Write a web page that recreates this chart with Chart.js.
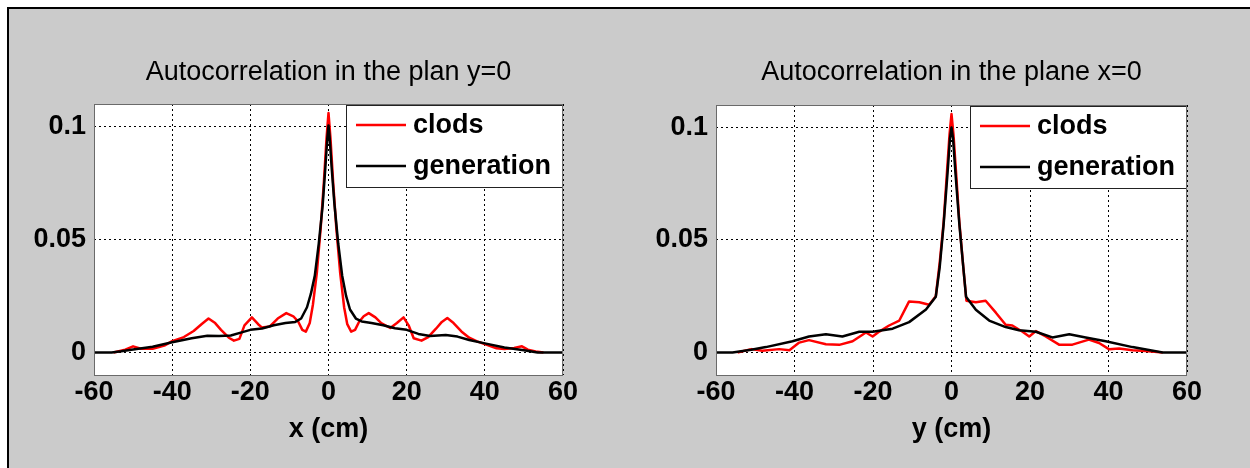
<!DOCTYPE html>
<html>
<head>
<meta charset="utf-8">
<script src="https://cdn.jsdelivr.net/npm/chart.js@4.4.1/dist/chart.umd.min.js"></script>
<style>
  body { margin: 0; background: #fff; width: 1250px; height: 468px; overflow: hidden; position: relative; }
  #frame { position: absolute; left: 7px; top: 7px; width: 1243px; height: 461px; background: #cbcbcb;
           border-left: 2px solid #000; border-top: 2px solid #000; box-sizing: border-box; }
  canvas { position: absolute; }
</style>
</head>
<body>
<div id="frame"></div>
<canvas id="plotY0" width="600" height="460" style="left:8px; top:8px;"></canvas>
<canvas id="plotX0" width="600" height="460" style="left:630px; top:8px;"></canvas>
<script>
const xTicks = [-60, -40, -20, 0, 20, 40, 60];
const yTicks = [0, 0.05, 0.1];
const seriesNames = ["clods", "generation"];

// plan y=0
const y0ClodsX = [-55, -52, -50, -48, -45, -42, -40, -37, -34.5, -32.5, -30.7, -29, -27.5, -25.5, -24.2, -22.8,
  -21.5, -19.6, -18, -17, -15, -13, -10.8, -9, -7.7, -6.7, -5.8, -4.8, -4, -3, -2, -1.2, -0.5, 0,
  0.5, 1.2, 2, 3, 4, 4.8, 5.8, 6.8, 7.8, 9, 10.3, 12, 13.5, 15.8, 17.5, 19.2, 20.5, 21.8, 23.8, 25.5,
  27.5, 29, 30.4, 32, 34, 36, 38, 40.5, 43, 45, 47.5, 49.5, 51, 53, 55];
const y0ClodsY = [0, 0.0012, 0.0027, 0.0016, 0.0016, 0.003, 0.005, 0.0068, 0.0095, 0.0125, 0.015, 0.013, 0.01, 0.0065, 0.0052, 0.006,
  0.012, 0.0155, 0.0125, 0.011, 0.0115, 0.015, 0.0174, 0.016, 0.0135, 0.01, 0.0092, 0.013, 0.021, 0.035, 0.055, 0.075, 0.095, 0.106,
  0.095, 0.075, 0.055, 0.035, 0.02, 0.0125, 0.0092, 0.01, 0.0135, 0.016, 0.0174, 0.0155, 0.013, 0.0108, 0.013, 0.0155, 0.012, 0.0063, 0.0052, 0.0068,
  0.0105, 0.0135, 0.0152, 0.013, 0.0093, 0.0065, 0.0049, 0.0034, 0.0018, 0.0015, 0.002, 0.0027, 0.0012, 0.0004, 0];
const y0GenX = [-60, -55.5, -53, -50, -45, -40, -35, -31, -28, -25, -22, -20, -17, -14, -11, -8.5, -7, -5.5, -4.5, -3.5,
  -2.5, -1.5, -0.8, -0.3, 0, 0.3, 0.8, 1.5, 2.5, 3.5, 4.5, 5.5, 7, 8.5, 11, 14, 17, 20, 23, 26, 30, 33, 36, 40, 45, 50, 53.5, 60];
const y0GenY = [0, 0, 0.0005, 0.0013, 0.0025, 0.0045, 0.0063, 0.0074, 0.0073, 0.0075, 0.009, 0.01, 0.0106, 0.012, 0.013, 0.0135, 0.015, 0.02, 0.026, 0.034,
  0.048, 0.065, 0.082, 0.095, 0.1005, 0.095, 0.082, 0.066, 0.048, 0.034, 0.025, 0.019, 0.015, 0.0137, 0.013, 0.012, 0.0107, 0.01, 0.0082, 0.0073, 0.0077, 0.007, 0.0055, 0.004, 0.0022, 0.001, 0, 0];

// plane x=0
const x0ClodsX = [-54.5, -51, -48.2, -43.9, -41.3, -38.8, -36.3, -32, -28.6, -25.2, -21.8, -20.1, -18.4, -15.9, -13.3, -10.8,
  -8.2, -5.7, -4, -3, -2, -1.2, -0.5, 0, 0.5, 1.2, 2, 3, 3.8, 6.2, 8.7, 11.3, 13.8, 15.5, 18.1, 19.8, 21.5, 24, 27.4,
  30.8, 35, 37.6, 40.2, 42.7, 46.1, 49.5, 53.8];
const x0ClodsY = [0, 0.0015, 0.0008, 0.0015, 0.001, 0.0044, 0.0055, 0.0037, 0.0034, 0.005, 0.0089, 0.0071, 0.0093, 0.012, 0.0142, 0.0227,
  0.0223, 0.0212, 0.025, 0.04, 0.058, 0.079, 0.097, 0.106, 0.097, 0.079, 0.058, 0.038, 0.023, 0.0223, 0.023, 0.0177, 0.0123, 0.012, 0.0092, 0.0071, 0.0095, 0.0071, 0.0035,
  0.0035, 0.0057, 0.0042, 0.0014, 0.0018, 0.001, 0.0007, 0];
const x0GenX = [-60, -55.8, -51, -47.3, -40.5, -36.3, -32, -27.8, -23.5, -20.1, -15, -10.8, -6.5, -4, -3, -2, -1, -0.4, 0,
  0.4, 1, 2, 3, 3.7, 6.2, 9.6, 13.8, 17.2, 21.5, 25.7, 30, 34.2, 39.3, 46.1, 53.8, 60];
const x0GenY = [0, 0, 0.0012, 0.0024, 0.005, 0.0071, 0.0081, 0.0071, 0.0092, 0.0092, 0.0106, 0.0135, 0.0191, 0.0248, 0.038, 0.057, 0.08, 0.095, 0.1,
  0.095, 0.08, 0.057, 0.038, 0.0248, 0.019, 0.0142, 0.0113, 0.0099, 0.0092, 0.0067, 0.0081, 0.0067, 0.005, 0.0024, 0, 0];

const FONT = "'Liberation Sans', Arial, sans-serif";
Chart.defaults.font.family = FONT;
Chart.defaults.color = "#000";

function points(xs, ys) {
  return xs.map((x, i) => ({ x: x, y: ys[i] }));
}

// white plot area, grey box around it, and the legend in the upper right corner
const frameAndLegend = {
  id: "frameAndLegend",
  beforeDraw(chart) {
    const { ctx, chartArea: a } = chart;
    ctx.save();
    ctx.fillStyle = "#fff";
    ctx.fillRect(a.left, a.top, a.width, a.height);
    ctx.restore();
  },
  afterDatasetsDraw(chart) {
    const { ctx, chartArea: a } = chart;
    const w = 217, h = 83;
    const bx = a.right - w, by = a.top + 1;
    ctx.save();
    ctx.fillStyle = "#fff";
    ctx.fillRect(bx, by, w, h);
    ctx.strokeStyle = "#222";
    ctx.lineWidth = 1;
    ctx.strokeRect(bx + 0.5, by + 0.5, w - 1, h - 1);
    ctx.font = "bold 27px " + FONT;
    ctx.textBaseline = "middle";
    chart.data.datasets.forEach((ds, i) => {
      const ly = by + 20 + i * 41;
      ctx.strokeStyle = ds.borderColor;
      ctx.lineWidth = 2.5;
      ctx.beginPath();
      ctx.moveTo(bx + 10, ly);
      ctx.lineTo(bx + 60, ly);
      ctx.stroke();
      ctx.fillStyle = "#000";
      ctx.fillText(ds.label, bx + 67, ly + 1);
    });
    ctx.restore();
  },
  afterDraw(chart) {
    const { ctx, chartArea: a } = chart;
    ctx.save();
    ctx.strokeStyle = "#6a6a6a";
    ctx.lineWidth = 1;
    ctx.strokeRect(Math.round(a.left) + 0.5, Math.round(a.top) + 0.5, Math.round(a.width) - 1, Math.round(a.height));
    ctx.restore();
  }
};

function makePlot(id, title, axisName, clodsX, clodsY, genX, genY, rightPad, topGap) {
  return new Chart(document.getElementById(id), {
    type: "scatter",
    data: {
      datasets: [
        { label: seriesNames[0], data: points(clodsX, clodsY), borderColor: "#ff0000", borderWidth: 2.5, order: 1 },
        { label: seriesNames[1], data: points(genX, genY), borderColor: "#000000", borderWidth: 2.5, order: 0 }
      ]
    },
    options: {
      responsive: false,
      animation: false,
      devicePixelRatio: 1,
      showLine: true,
      elements: { point: { radius: 0 }, line: { tension: 0, fill: false, borderJoinStyle: "round" } },
      layout: { padding: { left: 0, right: rightPad, top: 0, bottom: 0 } },
      plugins: {
        legend: { display: false },
        tooltip: { enabled: false },
        title: {
          display: true,
          text: title,
          fullSize: false,
          color: "#000",
          font: { size: 27, weight: "normal" },
          padding: { top: 48, bottom: topGap }
        }
      },
      scales: {
        x: {
          type: "linear",
          min: -60,
          max: 60,
          afterBuildTicks: s => { s.ticks = xTicks.map(v => ({ value: v })); },
          afterFit: s => { s.height = 93; },
          ticks: { font: { size: 27, weight: "bold" }, padding: 1, maxRotation: 0, callback: v => String(v) },
          grid: { color: "#000", lineWidth: 1, drawTicks: false },
          border: { display: false, dash: [2, 3] },
          title: { display: true, text: axisName, font: { size: 27, weight: "bold" }, padding: { top: 0, bottom: 22 } }
        },
        y: {
          type: "linear",
          min: -0.01,
          max: 0.11,
          afterBuildTicks: s => { s.ticks = yTicks.map(v => ({ value: v })); },
          afterFit: s => { s.width = 86; },
          ticks: { font: { size: 27, weight: "bold" }, padding: 8, callback: v => String(v) },
          grid: { color: "#000", lineWidth: 1, drawTicks: false },
          border: { display: false, dash: [2, 3] }
        }
      }
    },
    plugins: [frameAndLegend]
  });
}

makePlot("plotY0", "Autocorrelation in the plan y=0", "x (cm)", y0ClodsX, y0ClodsY, y0GenX, y0GenY, 45, 15.6);
makePlot("plotX0", "Autocorrelation in the plane x=0", "y (cm)", x0ClodsX, x0ClodsY, x0GenX, x0GenY, 43, 16.6);
</script>
</body>
</html>
